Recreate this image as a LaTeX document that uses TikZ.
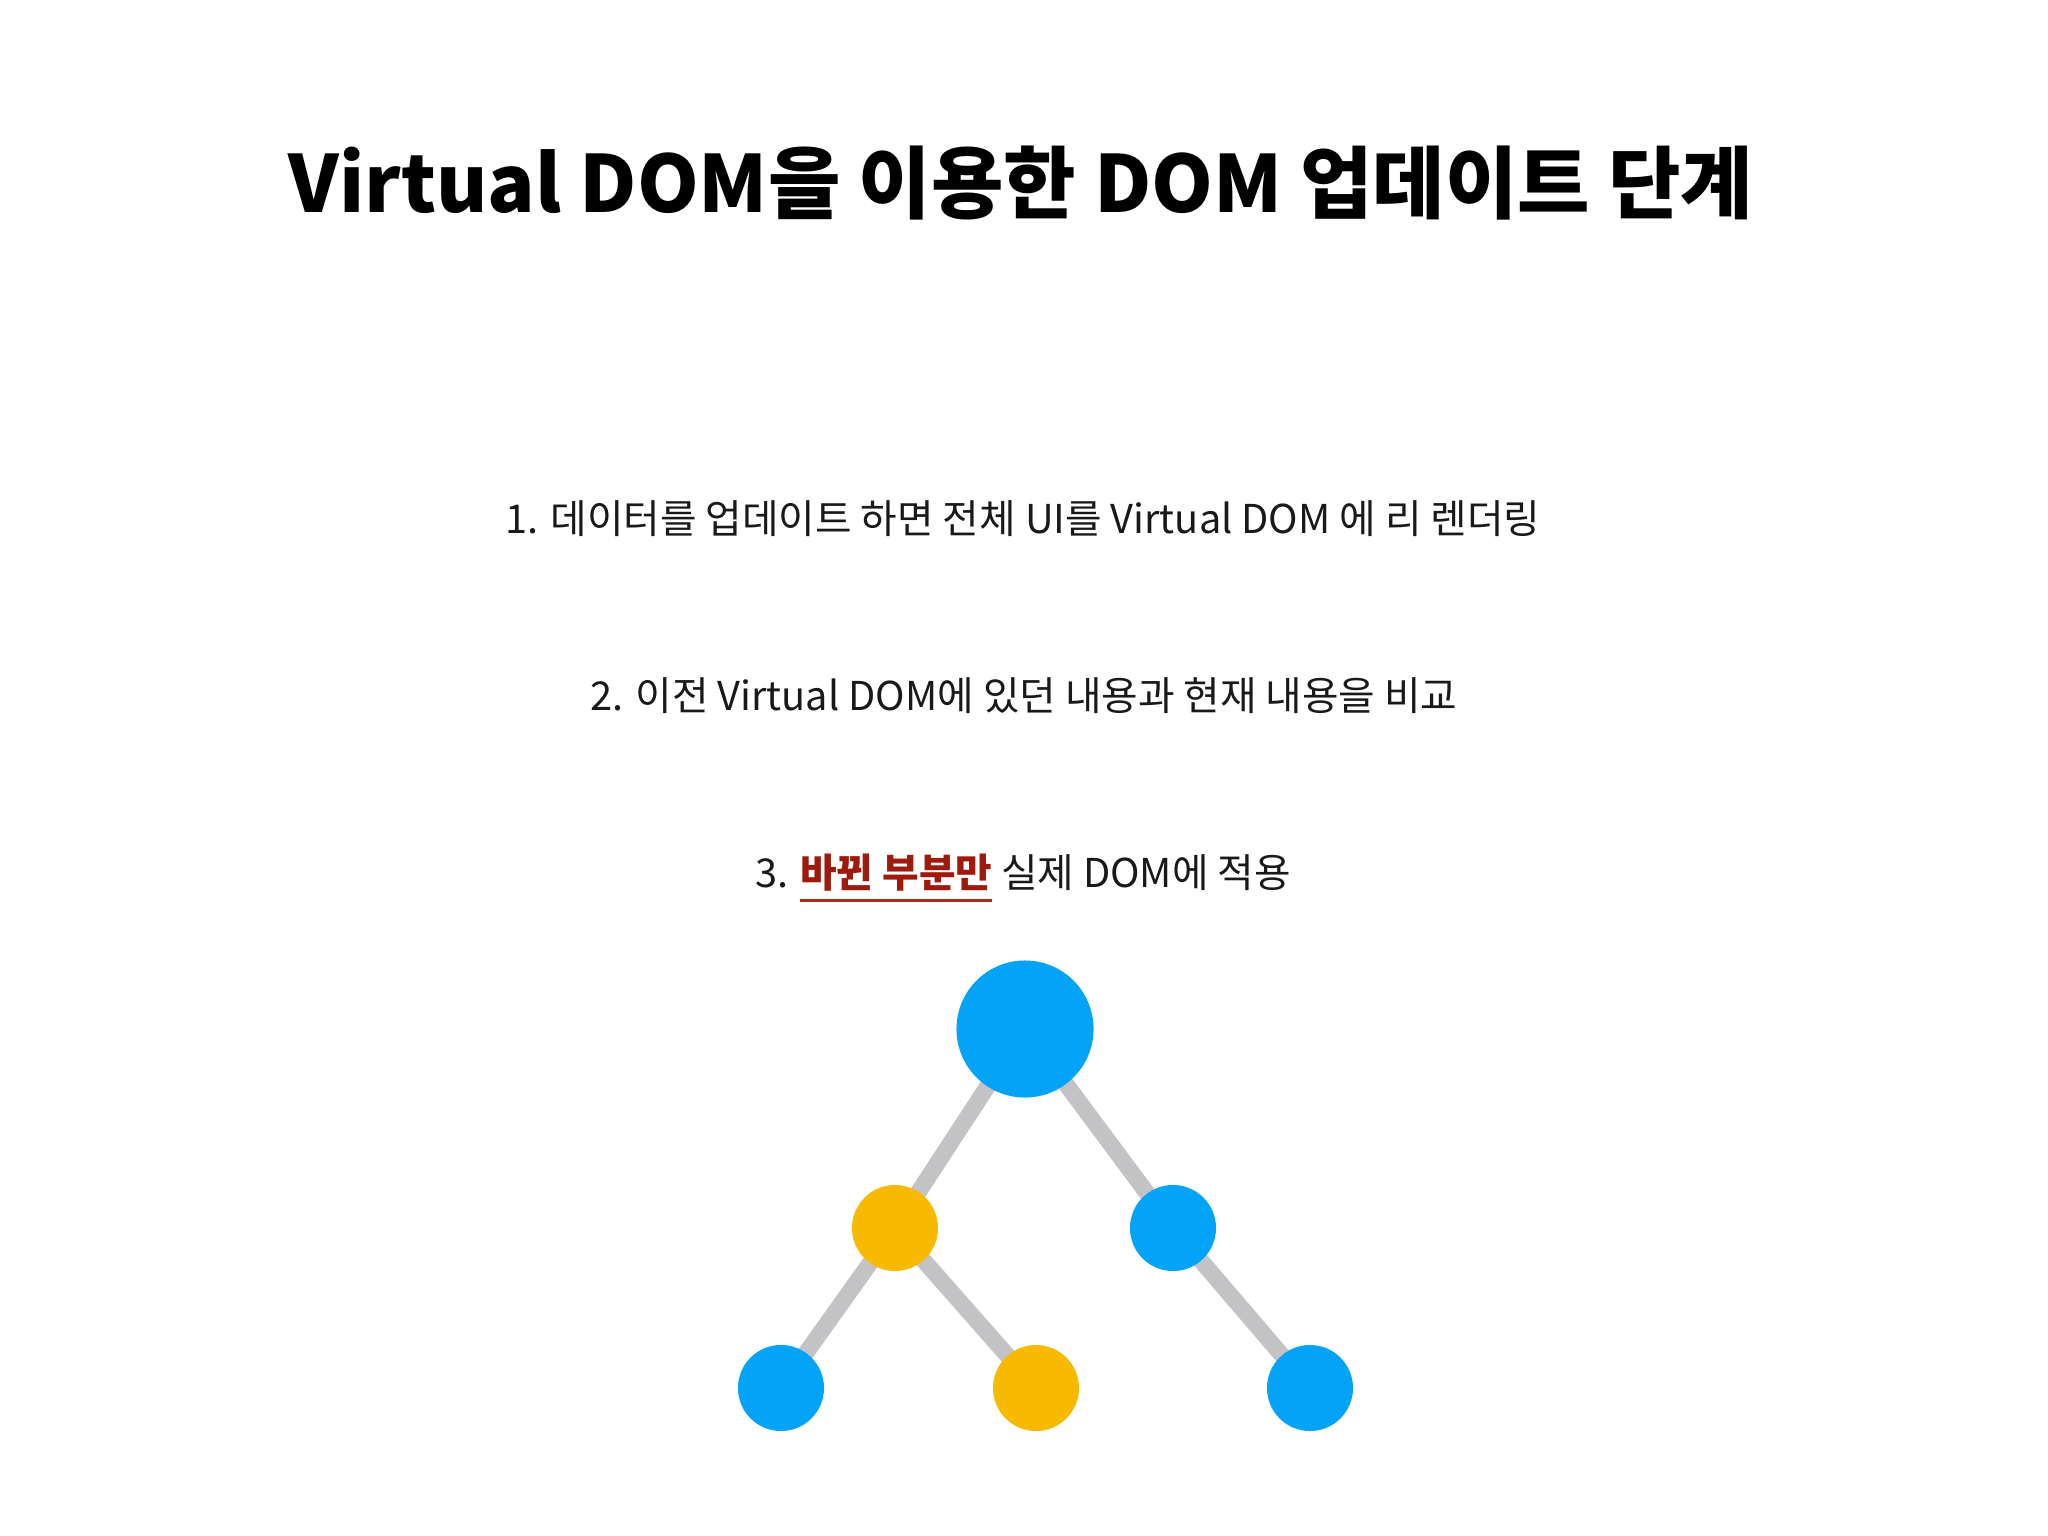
\documentclass[tikz,border=0pt]{standalone}
\usepackage{fontspec}
\setmainfont{Noto Sans CJK KR}
\usetikzlibrary{backgrounds}
\definecolor{vdomblue}{HTML}{03A4F8}
\definecolor{vdomyellow}{HTML}{F7BA00}
\definecolor{edgegray}{HTML}{C3C2C5}
\definecolor{changedred}{HTML}{9E1A0C}
\definecolor{changedline}{HTML}{B8281A}
\newsavebox{\changedbox}
\newcommand{\changedpart}[1]{\sbox{\changedbox}{\color{changedred}\bfseries #1}%
  \rlap{\textcolor{changedline}{\rule[-0.37em]{\wd\changedbox}{0.85pt}}}%
  \usebox{\changedbox}}

\begin{document}
\begin{tikzpicture}[x=0.01cm,y=-0.01cm]
\tikzset{
  dom/.style={circle, inner sep=0pt, minimum size=0.86cm, fill=vdomblue},
  changed/.style={dom, fill=vdomyellow},
  link/.style={draw=edgegray, line width=0.165cm},
  steptext/.style={font=\fontsize{11.3pt}{13pt}\selectfont, text=black!90}
}
\useasboundingbox (0,0) rectangle (2048,1536);

\node[font=\fontsize{22.4pt}{26pt}\selectfont\bfseries] (title) at (1021,183) {Virtual DOM을 이용한 DOM 업데이트 단계};

\node[steptext] (step1) at (1023,519) {1. 데이터를 업데이트 하면 전체 UI를 Virtual DOM 에 리 렌더링};
\node[steptext] (step2) at (1024,696) {2. 이전 Virtual DOM에 있던 내용과 현재 내용을 비교};
\node[steptext] (step3) at (1023,878) {3. \changedpart{바뀐 부분만} 실제 DOM에 적용};

\node[dom, minimum size=1.37cm] (root) at (1025,1029) {};
\node[changed] (left) at (895,1228) {};
\node[dom] (right) at (1173,1228) {};
\node[dom] (leftleft) at (781,1388) {};
\node[changed] (leftright) at (1036,1388) {};
\node[dom] (rightright) at (1310,1388) {};

\begin{pgfonlayer}{background}
\draw[link] (root.center) -- (left.center);
\draw[link] (root.center) -- (right.center);
\draw[link] (left.center) -- (leftleft.center);
\draw[link] (left.center) -- (leftright.center);
\draw[link] (right.center) -- (rightright.center);
\end{pgfonlayer}
\end{tikzpicture}
\end{document}
